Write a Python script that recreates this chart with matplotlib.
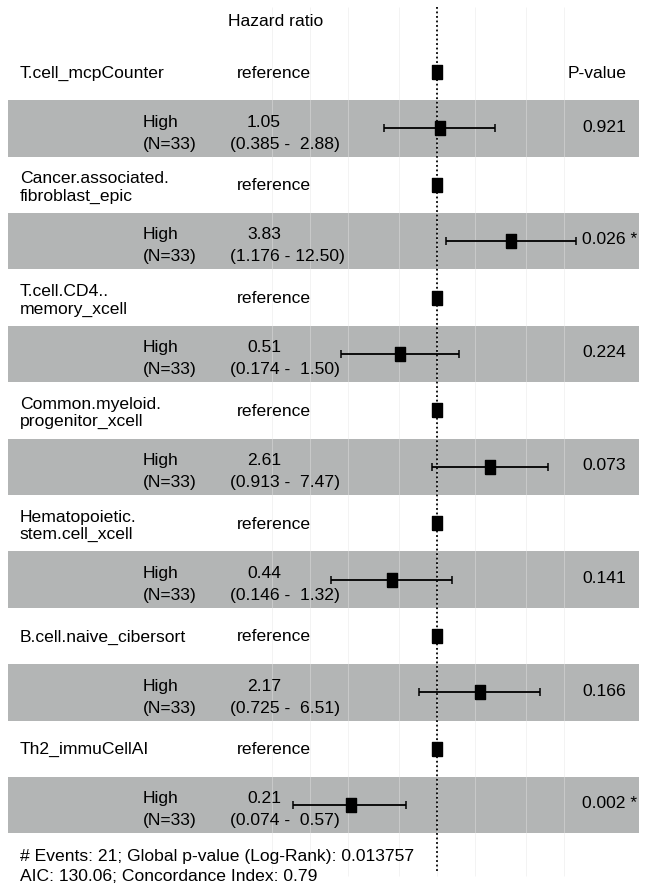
import numpy as np
import matplotlib
matplotlib.use("Agg")
import matplotlib.pyplot as plt
from matplotlib.transforms import blended_transform_factory

plt.rcParams['font.family'] = ['Liberation Sans', 'DejaVu Sans']

# cox model results, one entry per variable (level "High" vs reference)
variables = ["T.cell_mcpCounter", "Cancer.associated.\nfibroblast_epic",
             "T.cell.CD4..\nmemory_xcell", "Common.myeloid.\nprogenitor_xcell",
             "Hematopoietic.\nstem.cell_xcell", "B.cell.naive_cibersort",
             "Th2_immuCellAI"]
level = "High"
n_level = [33, 33, 33, 33, 33, 33, 33]
hr = [1.05, 3.83, 0.51, 2.61, 0.44, 2.17, 0.21]
ci_low = [0.385, 1.176, 0.174, 0.913, 0.146, 0.725, 0.074]
ci_high = [2.88, 12.50, 1.50, 7.47, 1.32, 6.51, 0.57]
p_labels = ["0.921", "0.026 *", "0.224", "0.073", "0.141", "0.166", "0.002 *"]
breaks = [0.05, 0.1, 0.2, 0.5, 1, 2, 5, 10]
n_events = 21
global_p = "0.013757"
aic = 130.06
cindex = 0.79

W, H = 649, 887
fig = plt.figure(figsize=(W / 100, H / 100), dpi=100)
ax = fig.add_axes([0, 0, 1, 1])
ax.set_xscale("log")

# layout in pixels: row 0 centred at y=73, rows 56.4 px apart, 127 px per decade, HR=1 at x=437
row0, row_h = 73, 56.4
px_dec, x_one = 127, 437
ax.set_xlim(10 ** (-x_one / px_dec), 10 ** ((W - x_one) / px_dec))
ax.set_ylim((H - row0) / row_h, -row0 / row_h)
ax.axis("off")


def yrow(py):
    return (py - row0) / row_h


tr = blended_transform_factory(ax.transAxes, ax.transData)
fs = 12.6

# grey bands behind the "High" rows
n_rows = 2 * len(variables)
for i in range(1, n_rows, 2):
    ax.add_patch(plt.Rectangle((8 / W, i - 0.5), (639 - 8) / W, 1.0, transform=tr,
                               facecolor="#b3b5b5", edgecolor="none", zorder=1))

# vertical grid at the log breaks
ax.vlines(breaks, yrow(8), yrow(877), colors="#e4e4e4", linewidth=0.7,
          alpha=0.45, zorder=2)
ax.vlines([1], yrow(8), yrow(873), colors="black", linestyles=(0, (1, 1.5)),
          linewidth=1.3, zorder=3)

# marker: slightly taller than wide
box = [(-0.5, -0.65), (0.5, -0.65), (0.5, 0.65), (-0.5, 0.65), (-0.5, -0.65)]

for k, name in enumerate(variables):
    ref_y = 2 * k
    hi_y = 2 * k + 1

    ax.plot([1], [ref_y], marker=box, markersize=9.6, color="black",
            linestyle="none", zorder=5)
    ax.errorbar([hr[k]], [hi_y],
                xerr=[[hr[k] - ci_low[k]], [ci_high[k] - hr[k]]],
                fmt="none", ecolor="black", elinewidth=1.3, capsize=3.2,
                capthick=1.1, zorder=4)
    ax.plot([hr[k]], [hi_y], marker=box, markersize=9.6, color="black",
            linestyle="none", zorder=5)

    off = 0.03 if "\n" in name else 0
    ax.text(20 / W, ref_y + off, name, transform=tr, ha="left", va="center",
            fontsize=fs, linespacing=1.2)
    ax.text(237 / W, ref_y, "reference", transform=tr, ha="left",
            va="center", fontsize=fs)

    ax.text(143 / W, hi_y - 0.13, level, transform=tr, ha="left",
            va="center", fontsize=fs)
    ax.text(143 / W, hi_y + 0.26, f"(N={n_level[k]})", transform=tr,
            ha="left", va="center", fontsize=fs)
    ax.text(247 / W, hi_y - 0.13, f"{hr[k]:.2f}", transform=tr, ha="left",
            va="center", fontsize=fs)
    ax.text(230 / W, hi_y + 0.26, f"({ci_low[k]:5.3f} - {ci_high[k]:5.2f})",
            transform=tr, ha="left", va="center", fontsize=fs)
    ax.text(582 / W, hi_y - 0.04, p_labels[k], transform=tr, ha="left",
            va="center", fontsize=fs)

ax.text(276 / W, yrow(22), "Hazard ratio", transform=tr, ha="center",
        va="center", fontsize=fs)
ax.text(568 / W, 0, "P-value", transform=tr, ha="left", va="center",
        fontsize=fs)

ax.text(20 / W, yrow(857),
        f"# Events: {n_events}; Global p-value (Log-Rank): {global_p}",
        transform=tr, ha="left", va="center", fontsize=fs)
ax.text(20 / W, yrow(877), f"AIC: {aic:.2f}; Concordance Index: {cindex:.2f}",
        transform=tr, ha="left", va="center", fontsize=fs)

fig.savefig("out.png", dpi=100)
